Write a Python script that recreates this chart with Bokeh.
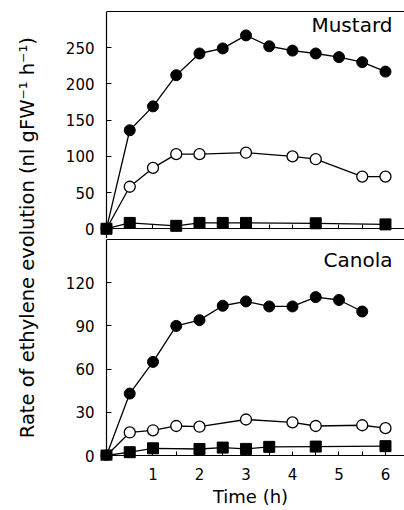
import math
from bokeh.plotting import figure
from bokeh.models import Range1d, LinearAxis, FixedTicker, Label
from bokeh.layouts import row, column
from bokeh.embed import file_html
from bokeh.resources import INLINE

# ---- data ----
time_ticks = [1, 2, 3, 4, 5, 6]
time_all_ticks = [0.5, 1, 1.5, 2, 2.5, 3, 3.5, 4, 4.5, 5, 5.5, 6]

mustard_filled_t = [0, 0.5, 1, 1.5, 2, 2.5, 3, 3.5, 4, 4.5, 5, 5.5, 6]
mustard_filled = [0, 136, 169, 212, 242, 249, 267, 252, 246, 242, 237, 230, 217]
mustard_open_t = [0, 0.5, 1, 1.5, 2, 3, 4, 4.5, 5.5, 6]
mustard_open = [0, 58, 84, 103, 103, 105, 100, 96, 72, 72]
mustard_sq_t = [0, 0.5, 1.5, 2, 2.5, 3, 4.5, 6]
mustard_sq = [0, 8, 4, 8, 8, 8, 7.5, 6]
mustard_yticks = [0, 50, 100, 150, 200, 250]

canola_filled_t = [0, 0.5, 1, 1.5, 2, 2.5, 3, 3.5, 4, 4.5, 5, 5.5]
canola_filled = [0, 43, 65, 90, 94, 104, 107, 103.5, 103.5, 110, 108, 100]
canola_open_t = [0, 0.5, 1, 1.5, 2, 3, 4, 4.5, 5.5, 6]
canola_open = [0, 16, 17.5, 20.5, 20, 25, 23, 20.5, 21, 19]
canola_sq_t = [0, 0.5, 1, 2, 2.5, 3, 3.5, 4.5, 6]
canola_sq = [0, 2.3, 5, 4.5, 5.5, 4.6, 6, 6.2, 6.5]
canola_yticks = [0, 30, 60, 90, 120]

FONT = "DejaVu Sans"
XR = (-0.215, 6.409)


def base_fig(height, yr, top, bottom):
    p = figure(width=354, height=height, x_range=Range1d(*XR), y_range=Range1d(*yr),
               output_backend="svg", toolbar_location=None,
               x_axis_type=None, y_axis_type=None,
               min_border_left=46, min_border_right=0,
               min_border_top=top, min_border_bottom=bottom,
               outline_line_color=None)
    p.xgrid.visible = False
    p.ygrid.visible = False
    return p


def line_axis(**kw):
    # axis drawn only as a line with (label-free) tick marks
    return LinearAxis(major_tick_in=0, major_tick_out=0, major_label_standoff=0,
                      axis_line_width=1.2, minor_tick_line_width=1.1, **kw)


def label_axis(ticks, **kw):
    # axis that only carries tick labels
    return LinearAxis(ticker=FixedTicker(ticks=ticks), axis_line_color=None,
                      major_tick_line_color=None, minor_tick_line_color=None,
                      major_tick_in=0, major_tick_out=0, minor_tick_in=0, minor_tick_out=0,
                      major_label_text_font=FONT, major_label_text_font_size="15px",
                      major_label_text_color="black", **kw)


def add_axes(p, yticks, ybounds, xlabels):
    p.add_layout(line_axis(fixed_location=0, bounds=ybounds,
                           ticker=FixedTicker(ticks=[], minor_ticks=yticks),
                           minor_tick_in=5, minor_tick_out=0), "left")
    p.add_layout(label_axis(yticks, major_label_standoff=2), "left")
    p.add_layout(line_axis(fixed_location=0, bounds=(0, XR[1]),
                           ticker=FixedTicker(ticks=[], minor_ticks=time_all_ticks),
                           minor_tick_in=4, minor_tick_out=0), "below")
    if xlabels:
        p.add_layout(label_axis(time_ticks, major_label_standoff=7,
                                axis_label="Time (h)", axis_label_standoff=3,
                                axis_label_text_font=FONT, axis_label_text_font_size="18px",
                                axis_label_text_font_style="normal",
                                axis_label_text_color="black"), "below")
    p.add_layout(line_axis(bounds=(0, XR[1]), ticker=FixedTicker(ticks=[], minor_ticks=[]),
                           minor_tick_in=0, minor_tick_out=0), "above")


def draw(p, ft, fv, ot, ov, st, sv):
    p.line(ft, fv, line_color="black", line_width=1.3)
    p.line(ot, ov, line_color="black", line_width=1.3)
    p.line(st, sv, line_color="black", line_width=1.3)
    p.scatter(ft, fv, marker="circle", size=11, fill_color="black", line_color="black")
    p.scatter(ot[1:], ov[1:], marker="circle", size=11, fill_color="white",
              line_color="black", line_width=1.3)
    p.scatter(st, sv, marker="square", size=11, fill_color="black", line_color="black")


# top panel: Mustard (canvas rows 0..238, frame rows 11..238)
p1 = base_fig(238, (-13.5, 300), 11, 0)
add_axes(p1, mustard_yticks, (-13.5, 300), False)
draw(p1, mustard_filled_t, mustard_filled, mustard_open_t, mustard_open, mustard_sq_t, mustard_sq)
p1.add_layout(Label(x=6.15, y=282, text="Mustard", text_align="right", text_baseline="middle",
                    text_font=FONT, text_font_size="20px", text_color="black"))

# bottom panel: Canola (canvas rows 238..510, frame rows 239..460)
p2 = base_fig(272, (-3.47, 150.0), 1, 50)
add_axes(p2, canola_yticks, (0, 150.0), True)
draw(p2, canola_filled_t, canola_filled, canola_open_t, canola_open, canola_sq_t, canola_sq)
p2.add_layout(Label(x=6.15, y=135.8, text="Canola", text_align="right", text_baseline="middle",
                    text_font=FONT, text_font_size="20px", text_color="black"))

# y-axis title strip
pl = figure(width=50, height=510, x_range=Range1d(0, 50), y_range=Range1d(0, 510),
            output_backend="svg", toolbar_location=None, x_axis_type=None, y_axis_type=None,
            min_border=0, outline_line_color=None)
pl.xgrid.visible = False
pl.ygrid.visible = False
pl.add_layout(Label(x=27, y=279, text="Rate of ethylene  evolution  (nl gFW\u207b\u00b9 h\u207b\u00b9)",
                    angle=math.pi / 2, text_align="center", text_baseline="middle",
                    text_font=FONT, text_font_size="19.5px", text_color="black"))

layout = row(pl, column(p1, p2, spacing=0), spacing=0)
open("out.html", "w").write(file_html(layout, INLINE))
